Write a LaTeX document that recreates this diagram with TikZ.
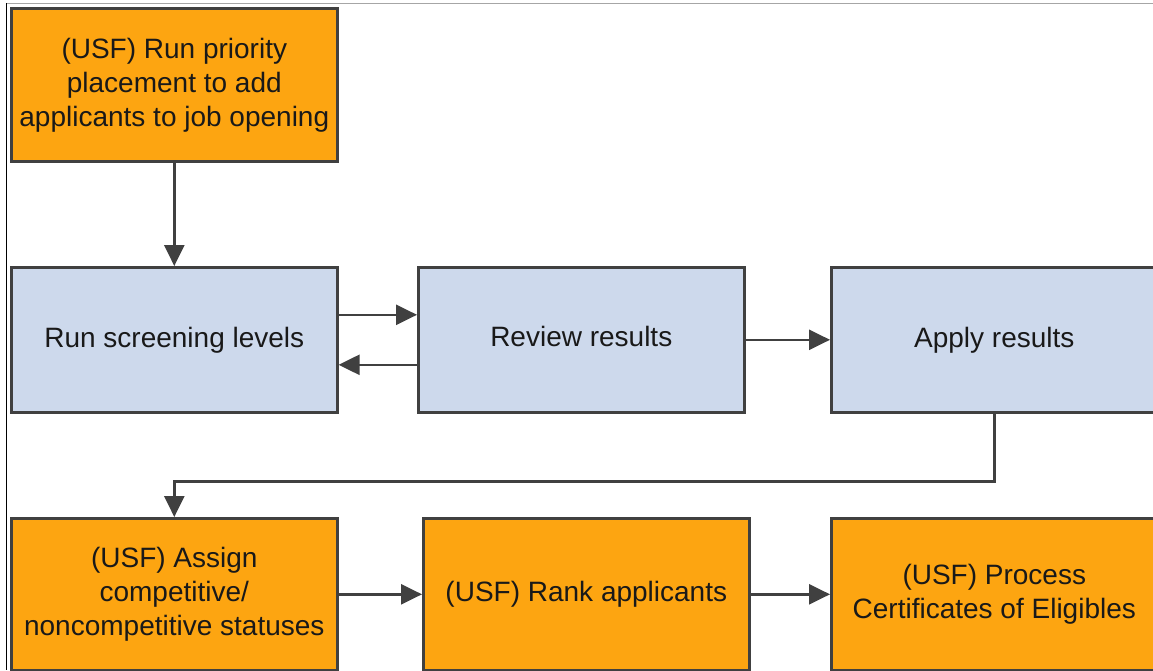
\documentclass[tikz,border=0pt]{standalone}
\usepackage{fontspec}
\setmainfont{Liberation Sans}
\usetikzlibrary{arrows.meta}
\definecolor{boxorange}{RGB}{253,165,17}
\definecolor{boxblue}{RGB}{205,217,236}
\definecolor{edgegray}{RGB}{64,64,64}
\definecolor{txt}{RGB}{25,25,25}
\begin{document}
\begin{tikzpicture}[x=1pt,y=-1pt,
  box/.style={draw=edgegray,line width=2.6pt,anchor=north west,inner sep=0pt,
    minimum width=326pt,align=center,text=txt,
    font=\fontsize{28}{34}\selectfont},
  obox/.style={box,fill=boxorange},
  bbox/.style={box,fill=boxblue,minimum height=145pt},
  arr/.style={draw=edgegray,line width=2.5pt,-{Triangle[length=21pt,width=20pt]}}]
\useasboundingbox (0,0) rectangle (1153,670);
\clip (0,0) rectangle (1153,670);
\fill[white] (0,0) rectangle (1153,670);
\draw[gray!70,line width=1pt] (6,3) -- (1153,3);
\draw[black,line width=1.5pt] (6.5,3) -- (6.5,670);
\node[obox,minimum height=153pt] (place) at (10,7) {(USF) Run priority\\placement to add\\applicants to job opening};
\node[bbox] (screen) at (10,266) {Run screening levels};
\node[bbox] (review) at (417,266) {Review results\strut};
\node[bbox] (apply) at (830,266) {Apply results};
\node[obox,minimum height=152pt] (assign) at (10,517) {(USF) Assign\\competitive/\\noncompetitive statuses};
\node[obox,minimum height=152pt] (rank) at (422,517) {(USF) Rank applicants};
\node[obox,minimum height=152pt] (process) at (830,517) {(USF) Process\\Certificates of Eligibles};
\draw[arr] (place.south) -- (screen.north);
\draw[arr] ([yshift=25pt]screen.east) -- ([yshift=25pt]review.west);
\draw[arr] ([yshift=-25pt]review.west) -- ([yshift=-25pt]screen.east);
\draw[arr] (review.east) -- (apply.west);
\draw[arr] (apply.south) -- ++(0,68) -| (assign.north);
\draw[arr] (assign.east) -- (rank.west);
\draw[arr] (rank.east) -- (process.west);
\end{tikzpicture}
\end{document}
